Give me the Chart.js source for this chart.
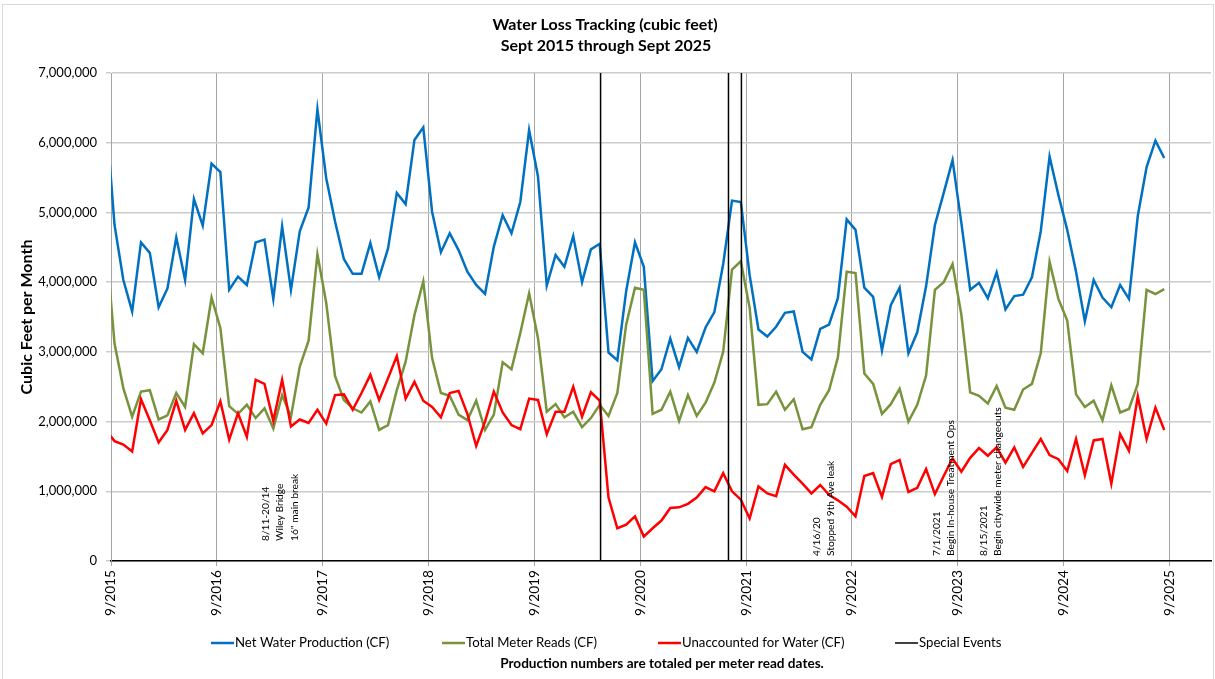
<!DOCTYPE html>
<html>
<head>
    <title>Water Loss Tracking</title>
    <script src="https://cdn.jsdelivr.net/npm/chart.js"></script>
    <style>
        body { margin: 0; background: #fff; }
        .chart-container { position: relative; width: 1215px; height: 679px; }
    </style>
</head>
<body>
    <div class="chart-container">
        <canvas id="lossChart"></canvas>
    </div>

    <script>
        const yearTicks = ['9/2015', '9/2016', '9/2017', '9/2018', '9/2019', '9/2020',
                           '9/2021', '9/2022', '9/2023', '9/2024', '9/2025'];

        // first meter read sits a little before the 9/2015 tick (months)
        const firstReadMonth = -0.6;

        // monthly values, millions of cubic feet
        const netProduction = [
            6.45, 4.82, 4.03, 3.58, 4.57, 4.42, 3.64, 3.91, 4.64, 4.03, 5.19, 4.81,
            5.70, 5.58, 3.89, 4.08, 3.96, 4.57, 4.61, 3.76, 4.80, 3.89, 4.73, 5.07,
            6.48, 5.49, 4.87, 4.33, 4.12, 4.12, 4.56, 4.07, 4.48, 5.28, 5.12, 6.04,
            6.22, 5.01, 4.43, 4.70, 4.46, 4.15, 3.96, 3.83, 4.51, 4.96, 4.70, 5.15,
            6.18, 5.52, 3.95, 4.39, 4.22, 4.66, 4.00, 4.47, 4.55, 2.99, 2.88, 3.87,
            4.57, 4.22, 2.58, 2.75, 3.19, 2.78, 3.20, 3.00, 3.35, 3.57, 4.26, 5.17,
            5.15, 4.10, 3.32, 3.22, 3.36, 3.56, 3.58, 3.00, 2.89, 3.33, 3.39, 3.77,
            4.90, 4.75, 3.92, 3.79, 3.02, 3.67, 3.92, 2.98, 3.28, 3.94, 4.82, 5.28,
            5.75, 4.85, 3.89, 3.99, 3.77, 4.14, 3.61, 3.80, 3.82, 4.07, 4.73, 5.80,
            5.25, 4.75, 4.15, 3.44, 4.03, 3.78, 3.64, 3.96, 3.76, 4.95, 5.65, 6.03,
            5.78
        ];
        const meterReads = [
            4.62, 3.12, 2.48, 2.07, 2.43, 2.45, 2.03, 2.09, 2.41, 2.21, 3.11, 2.98,
            3.78, 3.34, 2.22, 2.11, 2.24, 2.05, 2.19, 1.90, 2.38, 2.07, 2.79, 3.16,
            4.40, 3.70, 2.65, 2.31, 2.19, 2.13, 2.29, 1.88, 1.95, 2.45, 2.86, 3.53,
            4.01, 2.91, 2.41, 2.37, 2.10, 2.02, 2.30, 1.88, 2.10, 2.85, 2.75, 3.27,
            3.84, 3.20, 2.14, 2.25, 2.06, 2.14, 1.92, 2.05, 2.24, 2.08, 2.41, 3.39,
            3.92, 3.89, 2.11, 2.17, 2.43, 2.01, 2.38, 2.08, 2.27, 2.56, 3.00, 4.18,
            4.30, 3.63, 2.24, 2.25, 2.43, 2.17, 2.32, 1.89, 1.92, 2.24, 2.45, 2.92,
            4.15, 4.13, 2.69, 2.54, 2.11, 2.25, 2.47, 2.00, 2.24, 2.66, 3.89, 4.00,
            4.26, 3.53, 2.42, 2.37, 2.26, 2.51, 2.20, 2.17, 2.46, 2.54, 2.98, 4.29,
            3.76, 3.45, 2.39, 2.21, 2.30, 2.02, 2.52, 2.13, 2.18, 2.54, 3.89, 3.83,
            3.90
        ];
        const unaccounted = [
            1.88, 1.72, 1.67, 1.57, 2.32, 2.02, 1.70, 1.88, 2.30, 1.88, 2.12, 1.83,
            1.95, 2.29, 1.74, 2.12, 1.78, 2.60, 2.54, 2.01, 2.60, 1.93, 2.03, 1.98,
            2.17, 1.97, 2.38, 2.39, 2.17, 2.41, 2.67, 2.31, 2.62, 2.94, 2.33, 2.57,
            2.30, 2.21, 2.06, 2.41, 2.44, 2.11, 1.65, 2.00, 2.43, 2.13, 1.95, 1.89,
            2.33, 2.31, 1.82, 2.14, 2.14, 2.50, 2.07, 2.42, 2.30, 0.91, 0.47, 0.52,
            0.64, 0.35, 0.47, 0.58, 0.76, 0.77, 0.82, 0.91, 1.06, 1.00, 1.26, 1.00,
            0.88, 0.61, 1.07, 0.97, 0.93, 1.38, 1.24, 1.11, 0.97, 1.09, 0.95, 0.87,
            0.78, 0.64, 1.22, 1.26, 0.92, 1.39, 1.45, 0.99, 1.05, 1.32, 0.96, 1.22,
            1.47, 1.28, 1.48, 1.62, 1.51, 1.63, 1.41, 1.63, 1.35, 1.55, 1.75, 1.52,
            1.46, 1.29, 1.75, 1.23, 1.73, 1.75, 1.11, 1.82, 1.58, 2.36, 1.75, 2.20,
            1.88
        ];

        const eventDates = ['4/16/2020', '7/1/2021', '8/15/2021'];

        // text notes written up the chart, anchored at a month on the x axis
        const notes = [
            { month: 17.5, lines: ['8/11-20/14', 'Wiley Bridge', '16" main break'], lift: 20 },
            { month: 80.0, lines: ['4/16/20', 'Stopped 9th Ave leak'], lift: 5 },
            { month: 93.6, lines: ['7/1/2021', 'Begin In-house Treatment Ops'], lift: 5 },
            { month: 98.9, lines: ['8/15/2021', 'Begin citywide meter changeouts'], lift: 5 }
        ];

        const FONT = "Lato, sans-serif";

        function toMonths(d) {
            const [m, day, y] = d.split('/').map(Number);
            return (y - 2015) * 12 + (m - 9) + (day - 1) / 30;
        }

        function series(values) {
            return values.map((v, i) => ({ x: firstReadMonth + i, y: v * 1e6 }));
        }

        const eventPoints = eventDates.map(toMonths).flatMap(m => [
            { x: m, y: 0 }, { x: m, y: 7e6 }, { x: m, y: null }
        ]);

        const chartLayer = {
            id: 'chartLayer',
            beforeDraw(chart) {
                const c = chart.ctx;
                c.save();
                c.fillStyle = '#fff';
                c.fillRect(0, 0, chart.width, chart.height);
                c.strokeStyle = '#d9d9d9';
                c.lineWidth = 1;
                c.strokeRect(2.5, 4.5, 1211, 700);
                c.restore();
            },
            afterDraw(chart) {
                const c = chart.ctx;
                const area = chart.chartArea;
                const xs = chart.scales.x;
                c.save();
                c.fillStyle = '#000';
                c.textAlign = 'center';
                c.textBaseline = 'middle';
                c.font = `bold 16px ${FONT}`;
                c.fillText('Water Loss Tracking (cubic feet)', 605, 25);
                c.fillText('Sept 2015 through Sept 2025', 606, 46);

                c.save();
                c.translate(27, 317);
                c.rotate(-Math.PI / 2);
                c.font = `bold 16px ${FONT}`;
                c.fillText('Cubic Feet per Month', 0, 0);
                c.restore();

                // notes
                c.font = `10.2px ${FONT}`;
                c.textAlign = 'left';
                notes.forEach(n => {
                    n.lines.forEach((t, k) => {
                        const px = xs.getPixelForValue(n.month) + k * 14.5;
                        c.save();
                        c.translate(px, area.bottom - n.lift);
                        c.rotate(-Math.PI / 2);
                        c.fillText(t, 0, 0);
                        c.restore();
                    });
                });

                // legend
                const legendX = [211, 442, 658, 895];
                c.font = `13.2px ${FONT}`;
                chart.data.datasets.forEach((ds, i) => {
                    c.strokeStyle = ds.borderColor;
                    c.lineWidth = ds.borderWidth;
                    c.beginPath();
                    c.moveTo(legendX[i], 643);
                    c.lineTo(legendX[i] + 23, 643);
                    c.stroke();
                    c.fillStyle = '#000';
                    c.fillText(ds.label, legendX[i] + 24, 643);
                });

                c.textAlign = 'center';
                c.font = `bold 13.6px ${FONT}`;
                c.fillText('Production numbers are totaled per meter read dates.', 662, 664);
                c.restore();
            }
        };

        const ctx = document.getElementById('lossChart').getContext('2d');
        const chart = new Chart(ctx, {
            type: 'line',
            data: {
                datasets: [{
                    label: 'Net Water Production (CF)',
                    data: series(netProduction),
                    borderColor: '#0070C0',
                    borderWidth: 2.5,
                    order: 3
                }, {
                    label: 'Total Meter Reads (CF)',
                    data: series(meterReads),
                    borderColor: '#77933C',
                    borderWidth: 2.5,
                    order: 2
                }, {
                    label: 'Unaccounted for Water (CF)',
                    data: series(unaccounted),
                    borderColor: '#FF0000',
                    borderWidth: 2.5,
                    order: 1
                }, {
                    label: 'Special Events',
                    data: eventPoints,
                    borderColor: '#000000',
                    borderWidth: 1.5,
                    spanGaps: false,
                    order: 0
                }]
            },
            options: {
                responsive: true,
                maintainAspectRatio: false,
                animation: false,
                elements: { point: { radius: 0 }, line: { tension: 0 } },
                layout: { padding: { left: 0, right: 4, top: 73, bottom: 0 } },
                scales: {
                    x: {
                        type: 'linear',
                        min: 0,
                        max: 124.7,
                        afterBuildTicks: s => { s.ticks = yearTicks.map((t, i) => ({ value: i * 12 })); },
                        afterFit: s => { s.height = 118; },
                        grid: { color: '#a6a6a6', lineWidth: 1, tickLength: 5 },
                        border: { color: '#000', width: 1.5 },
                        ticks: {
                            autoSkip: false,
                            minRotation: 90,
                            maxRotation: 90,
                            padding: 4,
                            color: '#000',
                            font: { family: FONT, size: 13.7 },
                            callback: v => yearTicks[Math.round(v / 12)]
                        }
                    },
                    y: {
                        min: 0,
                        max: 7e6,
                        afterFit: s => { s.width = 111; },
                        grid: { color: '#cccccc', lineWidth: 1.5, tickLength: 5 },
                        border: { color: '#a6a6a6', width: 1 },
                        ticks: {
                            stepSize: 1e6,
                            padding: 9,
                            color: '#000',
                            font: { family: FONT, size: 13 },
                            callback: v => v.toLocaleString('en-US')
                        }
                    }
                },
                plugins: {
                    legend: { display: false },
                    tooltip: { enabled: false }
                }
            },
            plugins: [chartLayer]
        });
    </script>
</body>
</html>
